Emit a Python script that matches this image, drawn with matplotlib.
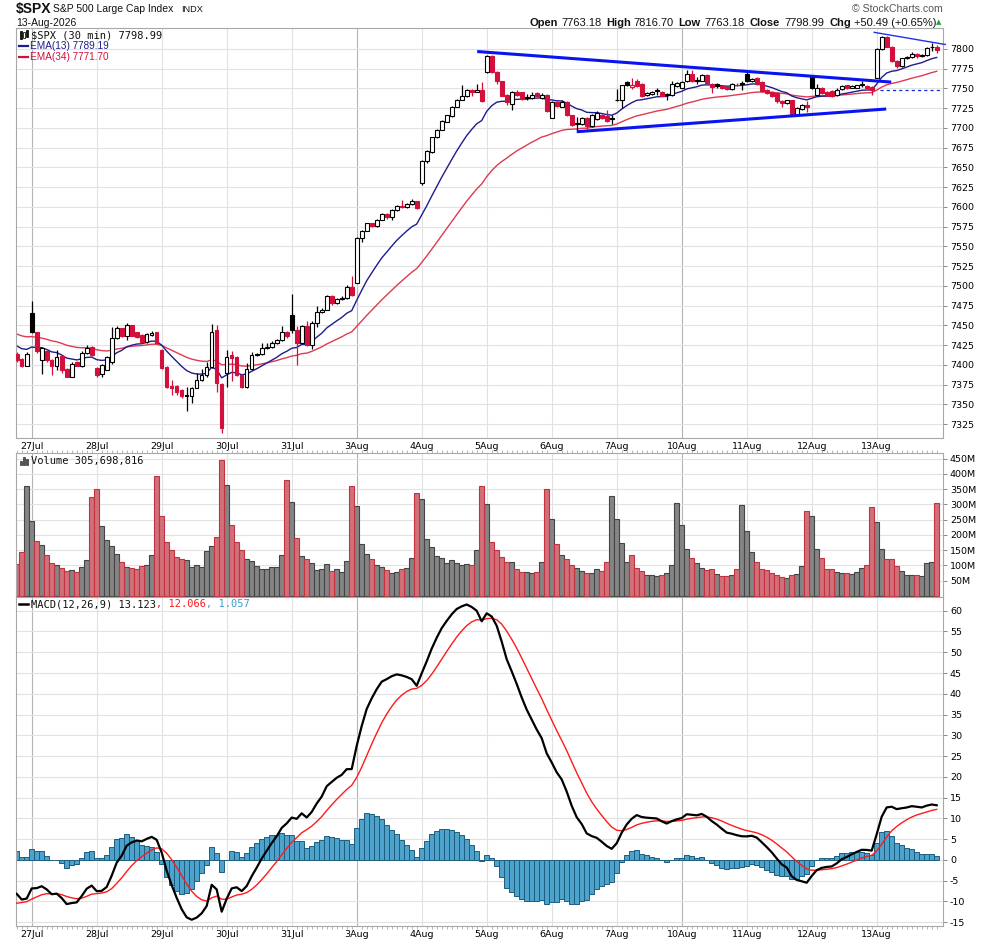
import matplotlib
matplotlib.use('Agg')
import matplotlib.pyplot as plt
from matplotlib.patches import Rectangle
import numpy as np

W, H = 990, 941

# ---- data (30 min bars, $SPX) ----
days = ['27Jul', '28Jul', '29Jul', '30Jul', '31Jul', '3Aug', '4Aug',
        '5Aug', '6Aug', '7Aug', '10Aug', '11Aug', '12Aug', '13Aug']
day_first_bar = [3, 16, 29, 42, 55, 68, 81, 94, 107, 120, 133, 146, 159, 172]
week_first_bar = [3, 68, 133]

opens = [
    7414, 7407, 7399,
    7465, 7441, 7406, 7418, 7406, 7398, 7411, 7395, 7385, 7403, 7399, 7415, 7422,
    7396, 7388, 7394, 7404, 7434, 7446, 7436, 7450, 7441, 7438, 7429, 7438, 7441,
    7419, 7397, 7373, 7373, 7368, 7362, 7360, 7371, 7381, 7387, 7397, 7444, 7376,
    7390, 7412, 7410, 7387, 7372, 7395, 7412, 7414, 7421, 7422, 7427, 7431, 7441,
    7463, 7444, 7428, 7449, 7425, 7453, 7467, 7470, 7487, 7478, 7483, 7484, 7498,
    7504, 7561, 7570, 7579, 7576, 7584, 7591, 7587, 7596, 7601, 7600, 7604, 7607,
    7630, 7658, 7670, 7688, 7698, 7708, 7715, 7727, 7736, 7740, 7748, 7746, 7748,
    7771, 7791, 7771, 7759, 7742, 7730, 7746, 7745, 7739, 7738, 7744, 7738, 7742,
    7713, 7733, 7727, 7733, 7716, 7706, 7705, 7713, 7702, 7711, 7717, 7715, 7712,
    7736, 7735, 7758, 7752, 7760, 7756, 7742, 7743, 7748, 7746, 7743, 7742, 7753,
    7751, 7759, 7768, 7761, 7760, 7767, 7756, 7756, 7753, 7752, 7749, 7754, 7757,
    7768, 7759, 7763, 7758, 7748, 7746, 7744, 7734, 7731, 7735, 7717, 7724, 7729,
    7765, 7742, 7751, 7746, 7747, 7742, 7749, 7754, 7751, 7751, 7756, 7753, 7752,
    7763.18, 7800, 7815, 7803, 7785, 7778, 7788, 7790, 7794, 7791, 7792, 7803, 7802,
]
highs = [
    7416, 7409, 7416,
    7481, 7442, 7423, 7420, 7407, 7419, 7412, 7396, 7403, 7405, 7417, 7425, 7424,
    7397, 7401, 7411, 7448, 7449, 7447, 7453, 7451, 7442, 7439, 7440, 7443, 7442,
    7420, 7398, 7381, 7374, 7369, 7372, 7372, 7389, 7395, 7404, 7452, 7450, 7377,
    7419, 7418, 7411, 7388, 7402, 7416, 7415, 7427, 7427, 7430, 7433, 7449, 7443,
    7490, 7449, 7451, 7455, 7455, 7474, 7472, 7488, 7488, 7485, 7487, 7501, 7512,
    7562, 7571, 7580, 7580, 7585, 7592, 7592, 7597, 7602, 7609, 7605, 7610, 7608,
    7659, 7672, 7689, 7699, 7710, 7717, 7728, 7737, 7754, 7749, 7749, 7756, 7758,
    7792, 7792, 7772, 7760, 7743, 7747, 7748, 7746, 7743, 7746, 7745, 7744, 7743,
    7734, 7734, 7735, 7734, 7717, 7714, 7714, 7714, 7718, 7722, 7718, 7723, 7716,
    7749, 7755, 7759, 7763, 7762, 7757, 7745, 7747, 7750, 7747, 7744, 7759, 7758,
    7759, 7774, 7774, 7764, 7768, 7768, 7757, 7757, 7754, 7753, 7757, 7757, 7760,
    7772, 7763, 7764, 7759, 7749, 7747, 7745, 7735, 7736, 7736, 7726, 7730, 7734,
    7766, 7756, 7752, 7747, 7748, 7750, 7754, 7755, 7754, 7755, 7759, 7754, 7753,
    7801, 7816.70, 7816, 7804, 7786, 7789, 7791, 7796, 7795, 7794, 7802, 7807, 7805,
]
lows = [
    7404, 7397, 7398,
    7440, 7415, 7388, 7403, 7387, 7393, 7390, 7384, 7384, 7398, 7397, 7414, 7411,
    7385, 7385, 7393, 7401, 7433, 7435, 7431, 7436, 7434, 7428, 7428, 7437, 7426,
    7395, 7370, 7362, 7362, 7358, 7341, 7351, 7370, 7380, 7385, 7396, 7366, 7314,
    7372, 7380, 7386, 7371, 7371, 7394, 7411, 7413, 7420, 7421, 7426, 7430, 7434,
    7440, 7400, 7427, 7424, 7420, 7448, 7466, 7469, 7476, 7477, 7482, 7483, 7487,
    7503, 7555, 7569, 7574, 7575, 7583, 7585, 7584, 7595, 7599, 7599, 7603, 7597,
    7628, 7655, 7668, 7687, 7697, 7707, 7714, 7726, 7735, 7739, 7740, 7745, 7733,
    7769, 7770, 7756, 7740, 7729, 7723, 7741, 7736, 7735, 7737, 7739, 7737, 7720,
    7712, 7727, 7726, 7715, 7702, 7698, 7704, 7699, 7701, 7710, 7711, 7708, 7705,
    7734, 7725, 7753, 7749, 7752, 7739, 7741, 7742, 7742, 7740, 7735, 7741, 7752,
    7750, 7758, 7758, 7756, 7759, 7756, 7744, 7750, 7749, 7748, 7748, 7753, 7748,
    7758, 7758, 7755, 7746, 7743, 7739, 7731, 7726, 7730, 7715, 7716, 7723, 7720,
    7749, 7741, 7743, 7740, 7739, 7741, 7748, 7749, 7750, 7750, 7752, 7749, 7742,
    7763.18, 7799, 7802, 7784, 7776, 7777, 7787, 7789, 7789, 7790, 7791, 7798, 7795,
]
closes = [
    7406, 7399, 7414,
    7441, 7417, 7421, 7406, 7398, 7410, 7394, 7385, 7401, 7399, 7415, 7421, 7412,
    7387, 7400, 7410, 7434, 7446, 7436, 7450, 7437, 7435, 7429, 7439, 7440, 7427,
    7396, 7372, 7371, 7366, 7360, 7361, 7371, 7381, 7387, 7397, 7442, 7377, 7320,
    7410, 7409, 7387, 7372, 7395, 7412, 7414, 7421, 7423, 7428, 7431, 7441, 7436,
    7444, 7428, 7449, 7425, 7453, 7467, 7470, 7487, 7478, 7483, 7485, 7498, 7488,
    7561, 7570, 7579, 7576, 7584, 7591, 7587, 7596, 7601, 7600, 7604, 7607, 7599,
    7658, 7671, 7688, 7698, 7709, 7716, 7727, 7736, 7740, 7748, 7745, 7748, 7734,
    7791, 7771, 7759, 7741, 7733, 7745, 7742, 7737, 7738, 7742, 7740, 7742, 7721,
    7733, 7728, 7733, 7716, 7704, 7705, 7713, 7702, 7717, 7719, 7712, 7709, 7711,
    7735, 7754, 7755, 7754, 7753, 7740, 7744, 7746, 7747, 7741, 7742, 7756, 7757,
    7758, 7768, 7759, 7760, 7767, 7757, 7752, 7753, 7750, 7749, 7756, 7755, 7756,
    7759, 7762, 7756, 7747, 7744, 7740, 7734, 7731, 7735, 7716, 7725, 7729, 7727,
    7750, 7751, 7744, 7741, 7740, 7748, 7753, 7750, 7753, 7754, 7755, 7750, 7748.50,
    7800, 7815, 7803, 7785, 7778, 7788, 7790, 7794, 7791, 7792, 7801, 7802, 7798.99,
]
# volume in millions
volume = [
    105, 144, 360,
    245, 179, 166, 133, 107, 100, 92, 81, 84, 78, 95, 117, 323,
    351, 228, 183, 163, 137, 110, 95, 91, 87, 97, 100, 133, 392,
    261, 176, 150, 128, 120, 117, 94, 100, 95, 146, 163, 192, 445,
    363, 232, 176, 150, 120, 114, 98, 87, 87, 94, 94, 133, 379,
    307, 190, 130, 120, 107, 84, 87, 104, 81, 87, 78, 114, 360,
    294, 169, 137, 120, 100, 95, 84, 74, 78, 87, 91, 123, 337,
    317, 187, 160, 130, 123, 107, 117, 107, 100, 104, 100, 150, 360,
    300, 178, 150, 127, 113, 113, 87, 80, 80, 77, 80, 110, 350,
    253, 172, 136, 120, 103, 93, 83, 77, 77, 89, 83, 113, 328,
    253, 175, 110, 133, 93, 83, 70, 70, 67, 70, 77, 103, 305,
    233, 155, 123, 107, 93, 86, 89, 73, 67, 67, 70, 90, 297,
    213, 143, 110, 90, 86, 77, 70, 63, 60, 70, 73, 97, 280,
    263, 153, 123, 90, 90, 80, 77, 77, 73, 80, 93, 103, 293,
    243, 153, 120, 120, 97, 83, 70, 70, 70, 67, 107, 113, 305.698816,
]
prior_close = 7418
# indicator levels just before the first visible bar (read at left edge)
prior_ema13, prior_ema34 = 7427, 7441
prior_ema12, prior_ema26, prior_signal = 7427, 7434, -11.0

# hand-drawn trendlines: (bar, price) endpoints
trend_thick = [((92.1, 7796.8), (174.9, 7758.1)), ((112.0, 7695.2), (173.9, 7724.0))]
trend_thin = [((171.5, 7821.1), (185.7, 7805.7))]
prev_close_line = ((172.7, 185.5), 7748.5)

# ---- derived ----
o = np.array(opens); h = np.array(highs); l = np.array(lows); c = np.array(closes)
v = np.array(volume)
n = len(c)
x = np.arange(n)
pc = np.concatenate([[prior_close], c[:-1]])


def ema(vals, span, start):
    k = 2.0 / (span + 1)
    out = []
    e = start
    for val in vals:
        e = e + k * (val - e)
        out.append(e)
    return np.array(out)


ema13 = ema(c, 13, prior_ema13)
ema34 = ema(c, 34, prior_ema34)
macd = ema(c, 12, prior_ema12) - ema(c, 26, prior_ema26)
signal = ema(macd, 9, prior_signal)
hist = macd - signal

RED = '#d3103c'
GRID = '#e2e2e2'
WEEK = '#b4b4b4'
SPINE = '#a8a8a8'
TICKF = dict(family='DejaVu Sans', size=6.8)

fig = plt.figure(figsize=(W / 100, H / 100), dpi=100)


def fy(ypx):
    return 1 - ypx / H


def make_ax(top, bottom):
    ax = fig.add_axes([16 / W, fy(bottom), (943 - 16) / W, (bottom - top) / H])
    ax.set_xlim(-0.14, 185.26)
    ax.yaxis.tick_right()
    ax.tick_params(axis='y', length=3, width=0.6, color='#777', pad=2, labelsize=6.8)
    for s in ax.spines.values():
        s.set_color(SPINE)
        s.set_linewidth(0.8)
    for d in day_first_bar:
        ax.axvline(d, color=WEEK if d in week_first_bar else GRID, lw=0.8, zorder=0)
    return ax


# ---------------- price panel ----------------
ax1 = make_ax(28.3, 438)
ax1.set_ylim(7307.3, 7826.2)
pticks = np.arange(7325, 7801, 25)
ax1.set_yticks(pticks)
ax1.set_yticklabels([str(t) for t in pticks], fontsize=6.8)
for t in pticks:
    ax1.axhline(t, color=GRID, lw=0.8, zorder=0)

for i in range(n):
    up_day = c[i] >= pc[i]
    col = 'black' if up_day else RED
    hollow = c[i] >= o[i]
    ax1.vlines(x[i], l[i], h[i], color=col, lw=0.9, zorder=2)
    bot = min(o[i], c[i])
    ht = max(abs(c[i] - o[i]), 0.3)
    ax1.add_patch(Rectangle((x[i] - 0.36, bot), 0.72, ht,
                            facecolor='white' if hollow else col,
                            edgecolor=col, lw=0.8, zorder=3))

ax1.plot(x, ema34, color='#de3a52', lw=1.0, zorder=1.5)
ax1.plot(x, ema13, color='#1d1d8e', lw=1.0, zorder=1.5)

for (x0, y0), (x1, y1) in trend_thick:
    ax1.plot([x0, x1], [y0, y1], color='#0a14f0', lw=2.2, zorder=4, solid_capstyle='butt')
for (x0, y0), (x1, y1) in trend_thin:
    ax1.plot([x0, x1], [y0, y1], color='#2030e8', lw=1.0, zorder=4, clip_on=False)
(px0, px1), py = prev_close_line
ax1.plot([px0, px1], [py, py], color='#1028e0', lw=0.9, ls=(0, (2.5, 2.5)), zorder=4)

ax1.set_xticks(day_first_bar)
ax1.set_xticklabels(days, **TICKF)
ax1.tick_params(axis='x', length=0, pad=3)

# ---------------- volume panel ----------------
ax2 = make_ax(453, 597)
ax2.set_ylim(-3.3, 468.7)
vticks = np.arange(50, 451, 50)
ax2.set_yticks(vticks)
ax2.set_yticklabels(['%dM' % t for t in vticks], fontsize=6.8)
for t in vticks:
    ax2.axhline(t, color=GRID, lw=0.8, zorder=0)
upv = c >= pc
ax2.bar(x[upv], v[upv], width=1.0, color='#858585', edgecolor='#444444', lw=0.8, zorder=2)
ax2.bar(x[~upv], v[~upv], width=1.0, color='#d2707a', edgecolor='#c23240', lw=0.8, zorder=2)
ax2.set_xticks(day_first_bar)
ax2.set_xticklabels([])
ax2.tick_params(axis='x', length=0)
ax2.set_xticks(x, minor=True)
ax2.tick_params(axis='x', which='minor', top=True, bottom=False, length=2, width=0.5, color='#999')

# ---------------- MACD panel ----------------
ax3 = make_ax(597, 926)
ax3.set_ylim(-15.9, 63.3)
mticks = np.arange(-15, 61, 5)
ax3.set_yticks(mticks)
ax3.set_yticklabels([str(t) for t in mticks], fontsize=6.8)
for t in mticks:
    ax3.axhline(t, color=GRID, lw=0.8, zorder=0)
ax3.bar(x, hist, width=1.0, color='#4ea3cd', edgecolor='#1d5d7e', lw=0.7, zorder=2)
ax3.plot(x, signal, color='#ff1a1a', lw=1.0, zorder=3)
ax3.plot(x, macd, color='black', lw=1.6, zorder=4)
ax3.set_xticks(day_first_bar)
ax3.set_xticklabels(days, **TICKF)
ax3.tick_params(axis='x', length=0, pad=3)
ax3.set_xticks(x, minor=True)
ax3.tick_params(axis='x', which='minor', length=2, width=0.5, color='#999')


# ---------------- texts ----------------
def ft(xpx, ypx, s, **kw):
    kw.setdefault('va', 'center')
    return fig.text(xpx / W, fy(ypx), s, **kw)


ft(16, 9, '$SPX', family='Liberation Sans', size=10, weight='bold', color='#111')
ft(53.3, 9.5, 'S&P 500 Large Cap Index', family='Liberation Sans', size=7.5, color='#111')
ft(181, 9.8, 'INDX', family='Liberation Sans', size=6.6, color='#111')
ft(16.5, 22.5, '13-Aug-2026', family='Liberation Sans', size=7.5, color='#111')
ft(943, 9.5, '\u00a9 StockCharts.com', family='Liberation Sans', size=7.6, color='#555', ha='right')

hdr = [(529, 'Open', True), (561, '7763.18', False), (606, 'High', True), (633, '7816.70', False),
       (678, 'Low', True), (704, '7763.18', False), (750, 'Close', True), (784, '7798.99', False),
       (830, 'Chg', True), (854, '+50.49 (+0.65%)', False)]
for xp, s, b in hdr:
    ft(xp, 22.5, s, family='Liberation Sans', size=8, weight='bold' if b else 'normal', color='#111')
ft(939, 22.5, '\u25b2', family='DejaVu Sans', size=5, color='#2e9a3a', ha='center')

MONO = dict(family='DejaVu Sans Mono', size=7.5)
ft(31.5, 35, '$SPX (30 min) 7798.99', color='#111', **MONO)
ft(29.5, 46, 'EMA(13) 7789.19', family='Liberation Sans', size=7.2, color='#1d1d8e')
ft(29.5, 57.3, 'EMA(34) 7771.70', family='Liberation Sans', size=7.2, color=RED)
fig.add_artist(plt.Line2D([19 / W, 28 / W], [fy(46), fy(46)], color='#1d1d8e', lw=1.6))
fig.add_artist(plt.Line2D([19 / W, 28 / W], [fy(57.3), fy(57.3)], color=RED, lw=1.6))
# small candle icon
for xx, y0, y1, f in [(20.5, 31, 39, '#111'), (24, 32, 38, 'white'), (27, 30, 37, '#111')]:
    fig.add_artist(Rectangle((xx / W - 1 / W, fy(y1)), 2 / W, (y1 - y0) / H, transform=fig.transFigure,
                             facecolor=f, edgecolor='#111', lw=0.6))

ft(31, 460.7, 'Volume 305,698,816', color='#111', **MONO)
for xx, y0 in [(20, 461), (23, 457), (26, 459)]:
    fig.add_artist(Rectangle((xx / W, fy(465)), 2.2 / W, (465 - y0) / H, transform=fig.transFigure,
                             facecolor='#555', edgecolor='#333', lw=0.5))

fig.add_artist(plt.Line2D([19 / W, 27.5 / W], [fy(604.3), fy(604.3)], color='black', lw=1.8))
t = ft(31.5, 604.3, 'MACD(12,26,9) 13.123', color='#111', **MONO)
fig.canvas.draw()
r = fig.canvas.get_renderer()
bb = t.get_window_extent(r)
t2 = fig.text(bb.x1 / W, fy(604.3), ', 12.066', color='#ff1a1a', va='center', **MONO)
bb2 = t2.get_window_extent(r)
fig.text(bb2.x1 / W, fy(604.3), ', 1.057', color='#3d9bd2', va='center', **MONO)

fig.savefig('out.png', dpi=100)
